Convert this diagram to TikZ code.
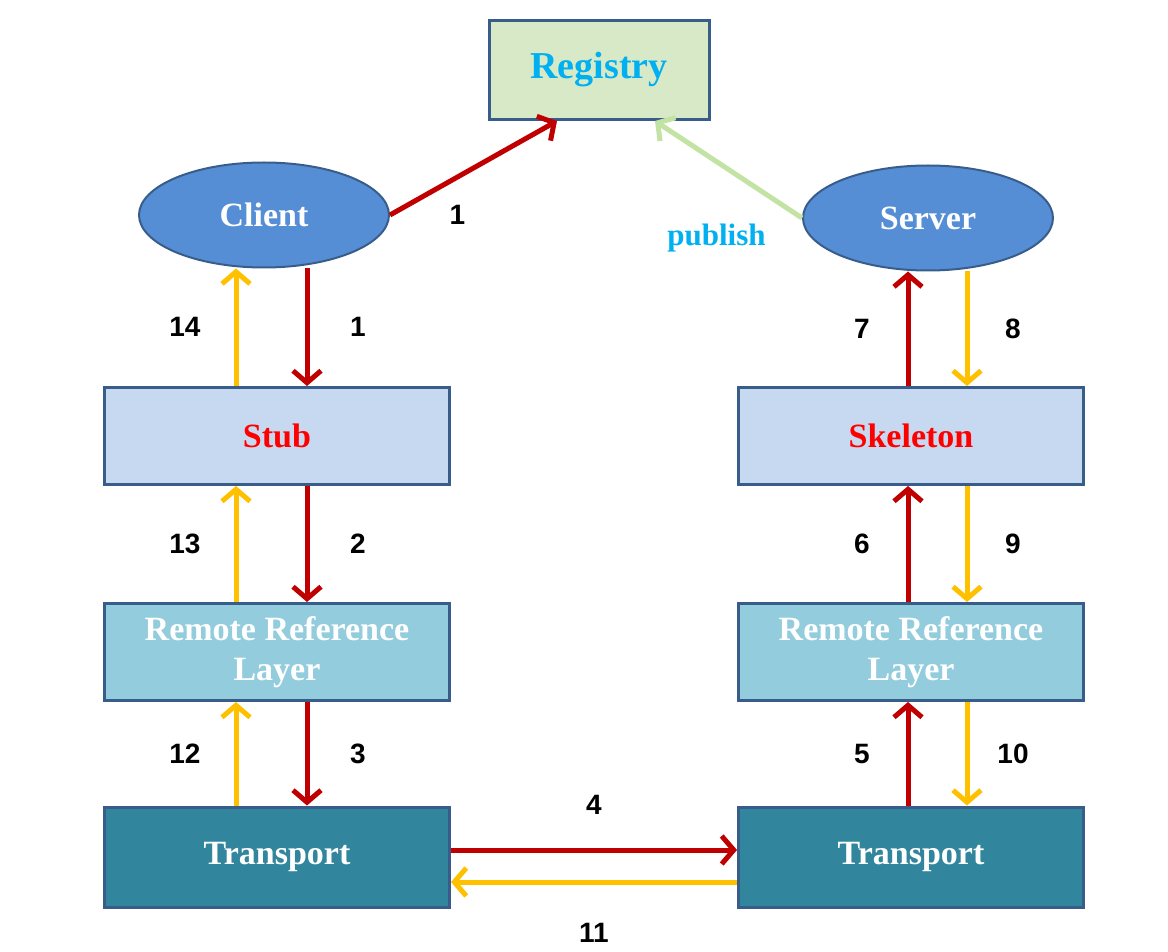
\documentclass[tikz,border=0pt]{standalone}
\usepackage{fontspec}
\setmainfont{Liberation Serif}
\newfontfamily\numfont{Liberation Sans}
\usetikzlibrary{shapes.geometric,arrows.meta}
\definecolor{boxline}{HTML}{385D8A}
\definecolor{actorfill}{HTML}{558ED5}
\definecolor{regfill}{HTML}{D7E9C6}
\definecolor{stubfill}{HTML}{C6D9F1}
\definecolor{refill}{HTML}{93CDDD}
\definecolor{transfill}{HTML}{31859C}
\definecolor{reqred}{HTML}{C00000}
\definecolor{respyellow}{HTML}{FFC000}
\definecolor{pubgreen}{HTML}{C3E3A5}
\definecolor{labcyan}{HTML}{00B0F0}
\definecolor{labred}{HTML}{FF0000}

\begin{document}
\begin{tikzpicture}[x=1pt, y=-1pt,
		layer/.style={draw=boxline, line width=3pt, minimum width=345, minimum height=97, inner sep=0,
			font=\fontsize{34}{40}\selectfont\bfseries, align=center},
		actor/.style={ellipse, draw=boxline, line width=2pt, fill=actorfill, text=white,
			minimum width=250, minimum height=105, inner sep=0, font=\fontsize{34}{40}\selectfont\bfseries},
		req/.style={draw=reqred, line width=5pt, -{Straight Barb[length=12pt,width=28pt,line width=5pt]}},
		resp/.style={draw=respyellow, line width=5pt, -{Straight Barb[length=12pt,width=28pt,line width=5pt]}},
		pub/.style={draw=pubgreen, line width=5pt, -{Straight Barb[length=12pt,width=28pt,line width=5pt]}},
		num/.style={font=\numfont\fontsize{28}{30}\selectfont\bfseries, text=black}]
		\useasboundingbox (0,0) rectangle (1168,952);
		% nodes
		\node[layer, fill=regfill, text=labcyan, minimum width=220, minimum height=99,
			font=\fontsize{38}{40}\selectfont\bfseries] (reg) at (599,70) {Registry};
		\node[actor] (client) at (264,215) {Client};
		\node[actor] (server) at (928,218) {Server};
		\node[layer, fill=stubfill, text=labred] (stub) at (277,436) {Stub};
		\node[layer, fill=stubfill, text=labred] (skel) at (911,436) {Skeleton};
		\node[layer, fill=refill, text=white] (lref) at (277,652) {Remote Reference\\Layer};
		\node[layer, fill=refill, text=white] (rref) at (911,652) {Remote Reference\\Layer};
		\node[layer, fill=transfill, text=white, minimum height=100] (ltrans) at (277,857) {Transport};
		\node[layer, fill=transfill, text=white, minimum height=100] (rtrans) at (911,857) {Transport};
		% arrow lanes
		\coordinate (lup) at (236,0);
		\coordinate (ldn) at (307,0);
		\coordinate (rup) at (908,0);
		\coordinate (rdn) at (967,0);
		\coordinate (go) at (0,850);
		\coordinate (back) at (0,882);
		\path
		(client.east) edge[req] node[num, xshift=-16, yshift=-47]{1} ([xshift=-42]reg.south)
		(server.west) edge[pub] node[font=\fontsize{31}{34}\selectfont\bfseries, text=labcyan, xshift=-12, yshift=-69]{publish} ([xshift=56]reg.south)
		(client.south -| ldn) edge[req] node[num, xshift=51]{1} (stub.north -| ldn)
		(stub.south -| ldn) edge[req] node[num, xshift=51]{2} (lref.north -| ldn)
		(lref.south -| ldn) edge[req] node[num, xshift=51]{3} (ltrans.north -| ldn)
		(ltrans.east |- go) edge[req] node[num, yshift=45]{4} (rtrans.west |- go)
		(rtrans.north -| rup) edge[req] node[num, xshift=-46]{5} (rref.south -| rup)
		(rref.north -| rup) edge[req] node[num, xshift=-46]{6} (skel.south -| rup)
		(skel.north -| rup) edge[req] node[num, xshift=-46]{7} (server.south -| rup)
		(server.south -| rdn) edge[resp] node[num, xshift=46]{8} (skel.north -| rdn)
		(skel.south -| rdn) edge[resp] node[num, xshift=46]{9} (rref.north -| rdn)
		(rref.south -| rdn) edge[resp] node[num, xshift=46]{10} (rtrans.north -| rdn)
		(rtrans.west |- back) edge[resp] node[num, yshift=-51]{11} (ltrans.east |- back)
		(ltrans.north -| lup) edge[resp] node[num, xshift=-51]{12} (lref.south -| lup)
		(lref.north -| lup) edge[resp] node[num, xshift=-51]{13} (stub.south -| lup)
		(stub.north -| lup) edge[resp] node[num, xshift=-51]{14} (client.south -| lup);
\end{tikzpicture}
\end{document}
